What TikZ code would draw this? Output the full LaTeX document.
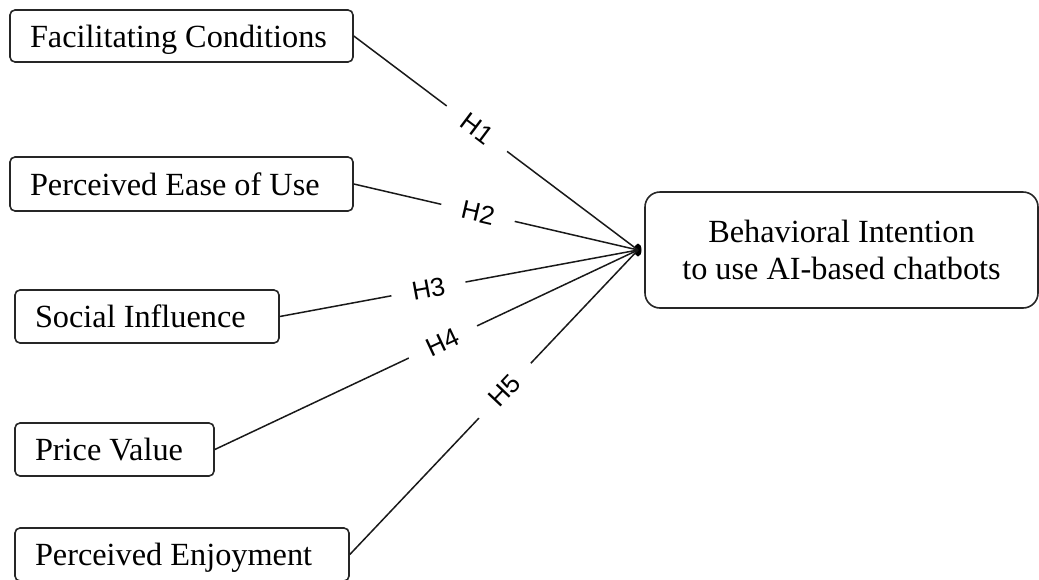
\documentclass[tikz,border=0pt]{standalone}
\usepackage{fontspec}
\setmainfont{Liberation Serif}
\newfontfamily\labelfont{Liberation Sans}
\usetikzlibrary{shapes.geometric}
% left-aligned text of a fixed width inside a construct box
\newcommand{\boxtext}[2]{\hbox to #1{#2\hfil}}
\begin{document}
\begin{tikzpicture}[x=1pt,y=-1pt,
  factor/.style={draw=black!85, line width=1.6pt, rounded corners=5pt,
    inner xsep=20pt, inner ysep=0pt, text depth=0pt,
    font=\fontsize{32.3}{37}\selectfont},
  outcome/.style={draw=black!85, line width=1.6pt, rounded corners=15pt,
    minimum width=393pt, minimum height=116pt, align=center,
    font=\fontsize{32.3}{37}\selectfont},
  link/.style={draw=black!90, line width=1.5pt},
  hyp/.style={fill=white, sloped, inner xsep=21pt, inner ysep=3pt,
    font=\labelfont\fontsize{26}{26}\selectfont},
]
\useasboundingbox (0,0) rectangle (1039,579);

% predictor constructs
\node[factor, minimum height=52pt] (fc)   at (181.5,36)    {\boxtext{303pt}{Facilitating Conditions}};
\node[factor, minimum height=54pt] (peou) at (181.5,184)   {\boxtext{303pt}{Perceived Ease of Use}};
\node[factor, minimum height=53pt] (si)   at (147,316.5)   {\boxtext{224pt}{Social Influence}};
\node[factor, minimum height=53pt] (pv)   at (114.5,449.5) {\boxtext{159pt}{Price Value}};
\node[factor, minimum height=53pt] (pe)   at (182,554.5)   {\boxtext{294pt}{Perceived Enjoyment}};

% outcome construct
\node[outcome] (bi) at (841.5,250) {Behavioral Intention\\to use AI-based chatbots};

% junction where all hypotheses meet
\node[ellipse, fill=black, inner sep=0pt, minimum width=7pt, minimum height=13pt] (tip) at (638,250) {};

% hypothesised paths
\draw[link] (fc.east)   -- node[hyp, pos=0.433] {H1} (tip.center);
\draw[link] (peou.east) -- node[hyp, pos=0.437] {H2} (tip.center);
\draw[link] (si.east)   -- node[hyp, pos=0.415] {H3} (tip.center);
\draw[link] (pv.east)   -- node[hyp, pos=0.539] {H4} (tip.center);
\draw[link] (pe.east)   -- node[hyp, pos=0.538] {H5} (tip.center);
\end{tikzpicture}
\end{document}
